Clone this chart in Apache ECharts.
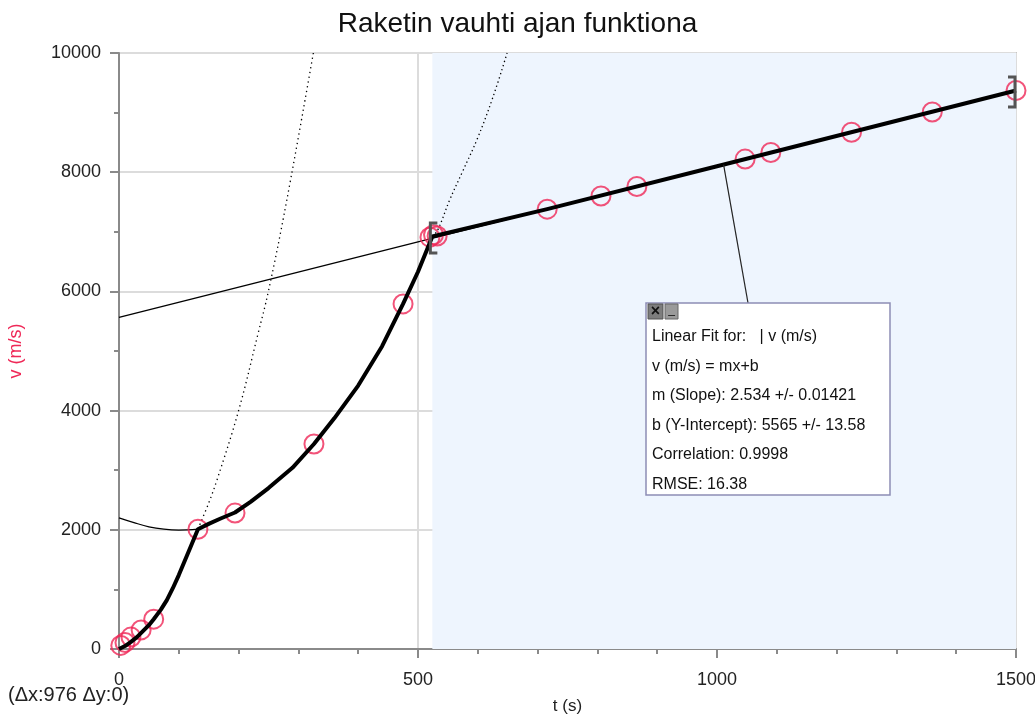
<!DOCTYPE html>
<html>
<head>
<meta charset="utf-8">
<script src="https://cdn.jsdelivr.net/npm/echarts@6/dist/echarts.min.js"></script>
<style>
html,body{margin:0;padding:0;background:#fff;}
#c{width:1035px;height:714px;}
</style>
</head>
<body>
<div id="c"></div>
<script>
// ---- data ----
const titleText = 'Raketin vauhti ajan funktiona';
const xName = 't (s)';
const yName = 'v (m/s)';
const deltaText = '(\u0394x:976 \u0394y:0)';
const xTicks = [0, 500, 1000, 1500];
const yTicks = [0, 2000, 4000, 6000, 8000, 10000];

// measured samples (red circles)
const samples = [
  [3, 60], [10, 110], [20, 200], [37, 320], [58, 500],
  [132, 2010], [194, 2280], [326, 3440], [475, 5790],
  [520, 6910], [526, 6950], [532, 6930],
  [716, 7380], [806, 7600], [866, 7760], [1047, 8220], [1090, 8330],
  [1225, 8670], [1360, 9010], [1500, 9370]
];
// thick connecting data line
const dataLine = [
  [0, 0], [10, 50], [20, 120], [30, 200], [40, 300], [50, 400], [58, 500], [70, 660], [80, 820],
  [90, 1020], [100, 1240], [110, 1480], [120, 1720], [132, 2010],
  [150, 2100], [170, 2190], [194, 2290], [220, 2470], [250, 2700], [290, 3040], [326, 3440],
  [360, 3870], [400, 4420], [440, 5080], [475, 5790], [500, 6330], [524, 6920],
  [716, 7380], [1000, 8100], [1500, 9370]
];
// linear fit line (thin)
const fitLine = [[0, 5565], [1500, 9366]];
// thin solid curve near start
const curveA = [[0, 2200], [25, 2120], [50, 2050], [75, 2010], [100, 1995], [132, 2010]];
// dotted extrapolation 1
const curveB = [[132, 2010], [150, 2450], [164, 2840], [200, 4000], [232, 5270], [250, 6010], [280, 7500], [325, 10000]];
// dotted extrapolation 2
const curveC = [[524, 6920], [533, 7030], [553, 7534], [574, 8000], [599, 8557], [625, 9250], [649, 10000]];
// fit range
const fitRange = [524, 1500];
const brackets = [[524, 6896, 'L'], [1500, 9346, 'R']];
const leaderPoint = [1011, 8127];
const fitLines = [
  'Linear Fit for:   | v (m/s)',
  'v (m/s) = mx+b',
  'm (Slope): 2.534 +/- 0.01421',
  'b (Y-Intercept): 5565 +/- 13.58',
  'Correlation: 0.9998',
  'RMSE: 16.38'
];

const FONT = '"Liberation Sans", Arial, sans-serif';
const RED = '#ef2857';
const chart = echarts.init(document.getElementById('c'));

const option = {
  animation: false,
  backgroundColor: '#fff',
  title: {
    text: titleText, left: 'center', top: 5,
    textStyle: {fontFamily: FONT, fontSize: 28, fontWeight: 'normal', color: '#111'}
  },
  grid: {left: 119, right: 19, top: 53, bottom: 65, show: true, borderColor: '#9a9a9a', borderWidth: 1.5,
    containLabel: false, outerBoundsMode: 'none'},
  xAxis: {
    type: 'value', min: 0, max: 1500, interval: 500,
    name: xName, nameLocation: 'middle', nameGap: 49,
    nameTextStyle: {fontFamily: FONT, fontSize: 17, color: '#222'},
    axisLine: {show: true, lineStyle: {color: '#8a8a8a', width: 2}},
    axisTick: {show: true, length: 9, lineStyle: {color: '#8a8a8a', width: 2}},
    minorTick: {show: true, splitNumber: 5, length: 5, lineStyle: {color: '#8a8a8a', width: 2}},
    splitLine: {show: true, lineStyle: {color: '#dcdcdc', width: 2}},
    axisLabel: {fontFamily: FONT, fontSize: 18, color: '#222', margin: 22, hideOverlap: false,
      formatter: v => xTicks.includes(v) ? String(v) : ''}
  },
  yAxis: {
    type: 'value', min: 0, max: 10000, interval: 2000,
    name: yName, nameLocation: 'middle', nameGap: 94, nameRotate: 90,
    nameTextStyle: {fontFamily: FONT, fontSize: 18, color: RED},
    axisLine: {show: true, lineStyle: {color: '#8a8a8a', width: 2}},
    axisTick: {show: true, length: 9, lineStyle: {color: '#8a8a8a', width: 2}},
    minorTick: {show: true, splitNumber: 2, length: 5, lineStyle: {color: '#8a8a8a', width: 2}},
    splitLine: {show: true, lineStyle: {color: '#dcdcdc', width: 2}},
    axisLabel: {fontFamily: FONT, fontSize: 18, color: '#222', margin: 18, hideOverlap: false,
      formatter: v => yTicks.includes(v) ? String(v) : ''}
  },
  series: [
    {
      type: 'line', data: [], silent: true,
      markArea: {silent: true, itemStyle: {color: '#eef5fe'},
        data: [[{xAxis: fitRange[0]}, {xAxis: fitRange[1]}]]},
      z: 0
    },
    {type: 'line', data: fitLine, symbol: 'none', lineStyle: {color: '#000', width: 1.3}, z: 2},
    {type: 'line', data: curveA, symbol: 'none', smooth: 0.4, lineStyle: {color: '#000', width: 1.2}, z: 2},
    {type: 'line', data: curveB, symbol: 'none', smooth: 0.4, lineStyle: {color: '#000', width: 1.3, type: [1.3, 3.5]}, z: 2},
    {type: 'line', data: curveC, symbol: 'none', smooth: 0.4, lineStyle: {color: '#000', width: 1.3, type: [1.3, 3]}, z: 2},
    {type: 'line', data: dataLine, symbol: 'none', smooth: false, lineStyle: {color: '#000', width: 4, join: 'round'}, z: 4},
    {type: 'scatter', data: samples, symbol: 'circle', symbolSize: 19,
      itemStyle: {color: 'rgba(0,0,0,0)', borderColor: RED, borderWidth: 2}, z: 3},
    {
      type: 'custom', data: brackets, z: 5,
      renderItem: (params, api) => {
        const p = api.coord([api.value(0), api.value(1)]);
        const side = brackets[params.dataIndex][2];
        const h = 15, w = 7;
        const xb = side === 'L' ? p[0] - 2 : p[0] - 1;
        const dx = side === 'L' ? w : -w;
        return {
          type: 'polyline',
          shape: {points: [[xb + dx, p[1] - h], [xb, p[1] - h], [xb, p[1] + h], [xb + dx, p[1] + h]]},
          style: {stroke: '#555', lineWidth: 3, fill: null}
        };
      }
    }
  ]
};
chart.setOption(option);

// fit box + leader line
const lp = chart.convertToPixel({gridIndex: 0}, leaderPoint);
const bx = 646, by = 303, bw = 244, bh = 192;
const gElems = [
  {type: 'line', shape: {x1: lp[0], y1: lp[1], x2: 748, y2: by}, style: {stroke: '#222', lineWidth: 1.2}, z: 50},
  {type: 'rect', shape: {x: bx, y: by, width: bw, height: bh}, style: {fill: '#fff', stroke: '#8d8db5', lineWidth: 1.5}, z: 51},
  {type: 'rect', shape: {x: bx + 2, y: by + 1, width: 15, height: 15}, style: {fill: '#7d7d7d', stroke: '#555', lineWidth: 1}, z: 52},
  {type: 'text', style: {text: '\u00d7', x: bx + 9.5, y: by + 9, align: 'center', verticalAlign: 'middle', font: 'bold 16px ' + FONT, fill: '#111'}, z: 53},
  {type: 'rect', shape: {x: bx + 19, y: by + 1, width: 13, height: 15}, style: {fill: '#9a9a9a', stroke: '#666', lineWidth: 1}, z: 52},
  {type: 'text', style: {text: '_', x: bx + 25.5, y: by + 7, align: 'center', verticalAlign: 'middle', font: '12px ' + FONT, fill: '#111'}, z: 53},
  {type: 'text', style: {text: deltaText, x: 8, y: 695, align: 'left', verticalAlign: 'middle', font: '20px ' + FONT, fill: '#222'}, z: 53}
];
fitLines.forEach((t, i) => {
  gElems.push({type: 'text', style: {text: t, x: 652, y: 337 + i * 29.5, align: 'left', verticalAlign: 'middle', font: '16px ' + FONT, fill: '#111'}, z: 53});
});
chart.setOption({graphic: {elements: gElems}});
</script>
</body>
</html>
